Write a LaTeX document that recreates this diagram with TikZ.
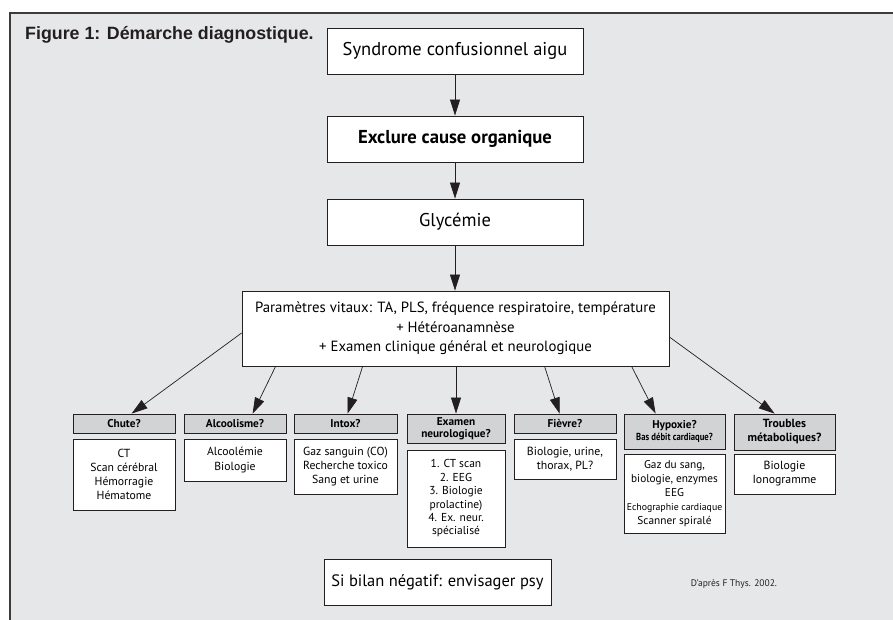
\documentclass[tikz,border=0pt]{standalone}
\usepackage{fontspec}
\setmainfont{PT Sans}
\newfontfamily\titlefont{Liberation Sans}
\usetikzlibrary{arrows.meta,calc}
\definecolor{bg}{HTML}{E6E7E8}
\definecolor{hdr}{HTML}{D1D3D4}
\definecolor{ink}{HTML}{231F20}
\definecolor{frame}{HTML}{3C3C3C}
\begin{document}
\begin{tikzpicture}[x=1pt,y=-1pt,
  bigbox/.style={draw=ink, line width=0.8pt, fill=white, inner sep=0pt, align=center,
    minimum width=256pt, minimum height=46pt, font=\fontsize{18.5}{21}\selectfont},
  hdrbox/.style={draw=ink, line width=0.8pt, fill=hdr, inner sep=0pt, align=center,
    font=\bfseries\fontsize{11.3}{12.5}\selectfont},
  cbox/.style={draw=ink, line width=0.8pt, fill=white, inner sep=0pt, align=center,
    font=\fontsize{11.7}{14.2}\selectfont},
  arr/.style={draw=ink, line width=0.7pt, -{Triangle[length=16pt,width=10pt]}}
]
\useasboundingbox (0,0) rectangle (893,620);
\fill[bg] (10,13) rectangle (893,620);
\draw[frame, line width=1.6pt] (10,620) -- (10,13) -- (893,13);

\node[anchor=base west, font=\titlefont\bfseries\fontsize{17.8}{20}\selectfont, text=ink, inner sep=0pt] (title) at (25,40) {Figure 1: Démarche diagnostique.};

\node[bigbox] (s1) at (455,51) {Syndrome confusionnel aigu};
\node[bigbox, font=\bfseries\fontsize{18.7}{21}\selectfont] (s2) at (455,139) {Exclure cause organique};
\node[bigbox] (s3) at (455,222) {Glycémie};
\node[bigbox, minimum width=427pt, minimum height=75pt, font=\fontsize{14.8}{19.5}\selectfont] (P) at (455.5,328.5)
  {Paramètres vitaux: TA, PLS, fréquence respiratoire, température\\+ Hétéroanamnèse\\+ Examen clinique général et neurologique};

\draw[arr] (s1) -- (s2);
\draw[arr] (s2) -- (s3);
\draw[arr] (s3.south) -- (P.north -| s3.south);

% headers
\node[hdrbox, minimum width=102pt, minimum height=19pt] (h1) at (124,423.5) {Chute?};
\node[hdrbox, minimum width=102pt, minimum height=19pt] (h2) at (235,423.5) {Alcoolisme?};
\node[hdrbox, minimum width=103pt, minimum height=19pt] (h3) at (345.5,423.5) {Intox?};
\node[hdrbox, minimum width=98pt, minimum height=29pt] (h4) at (456,428.5) {Examen\\neurologique?};
\node[hdrbox, minimum width=102pt, minimum height=19pt] (h5) at (565,423.5) {Fièvre?};
\node[hdrbox, minimum width=101pt, minimum height=35pt] (h6) at (674.5,431.5) {Hypoxie?\\[-1pt]{\fontsize{10.2}{11}\selectfont\addfontfeature{FakeStretch=0.85}Bas débit cardiaque?}};
\node[hdrbox, minimum width=101pt, minimum height=36pt, font=\bfseries\fontsize{11.8}{14}\selectfont] (h7) at (784.5,432) {Troubles\\métaboliques?};

% contents
\node[cbox, minimum width=102pt, minimum height=71pt] (c1) at (124,474.5) {CT\\Scan cérébral\\Hémorragie\\Hématome};
\node[cbox, minimum width=102pt, minimum height=42pt] (c2) at (235,460) {Alcoolémie\\Biologie};
\node[cbox, minimum width=103pt, minimum height=55pt] (c3) at (345.5,466.5) {Gaz sanguin (CO)\\Recherche toxico\\Sang et urine};
\node[cbox, minimum width=98pt, minimum height=97pt, font=\fontsize{11.5}{13.4}\selectfont] (c4) at (456,498.5) {1. CT scan\\2. EEG\\3. Biologie\\prolactine)\\4. Ex. neur.\\spécialisé};
\node[cbox, minimum width=102pt, minimum height=40pt, font=\fontsize{11.8}{13.5}\selectfont] (c5) at (565,459) {Biologie, urine,\\thorax, PL?};
\node[cbox, minimum width=101pt, minimum height=79pt, font=\fontsize{11.3}{14}\selectfont] (c6) at (674.5,493.5) {Gaz du sang,\\biologie, enzymes\\EEG\\{\fontsize{9.8}{14}\selectfont Echographie cardiaque}\\Scanner spiralé};
\node[cbox, minimum width=101pt, minimum height=40pt, font=\fontsize{11.8}{14}\selectfont] (c7) at (784.5,474) {Biologie\\Ionogramme};

% arrows from P to headers
\draw[arr] ($(P.west)+(0,4.5)$) -- ($(h1.north west)+(59,0)$);
\draw[arr] ($(P.south west)+(34,0)$) -- ($(h2.north west)+(69,0)$);
\draw[arr] ($(P.south west)+(121,0)$) -- ($(h3.north west)+(54,0)$);
\draw[arr] (P.south -| h4.north) -- (h4.north);
\draw[arr] ($(P.south west)+(303,0)$) -- ($(h5.north west)+(46,0)$);
\draw[arr] ($(P.south west)+(390,0)$) -- ($(h6.north west)+(32,0)$);
\draw[arr] ($(P.east)+(0,8.5)$) -- ($(h7.north west)+(41,0)$);

\node[bigbox, minimum width=227pt, font=\fontsize{16.5}{20}\selectfont] (psy) at (437.5,582) {Si bilan négatif: envisager psy};
\node[font=\fontsize{9.5}{11}\selectfont, text=ink, inner sep=0pt] (src) at (734,584) {D’après F Thys. 2002.};
\end{tikzpicture}
\end{document}
